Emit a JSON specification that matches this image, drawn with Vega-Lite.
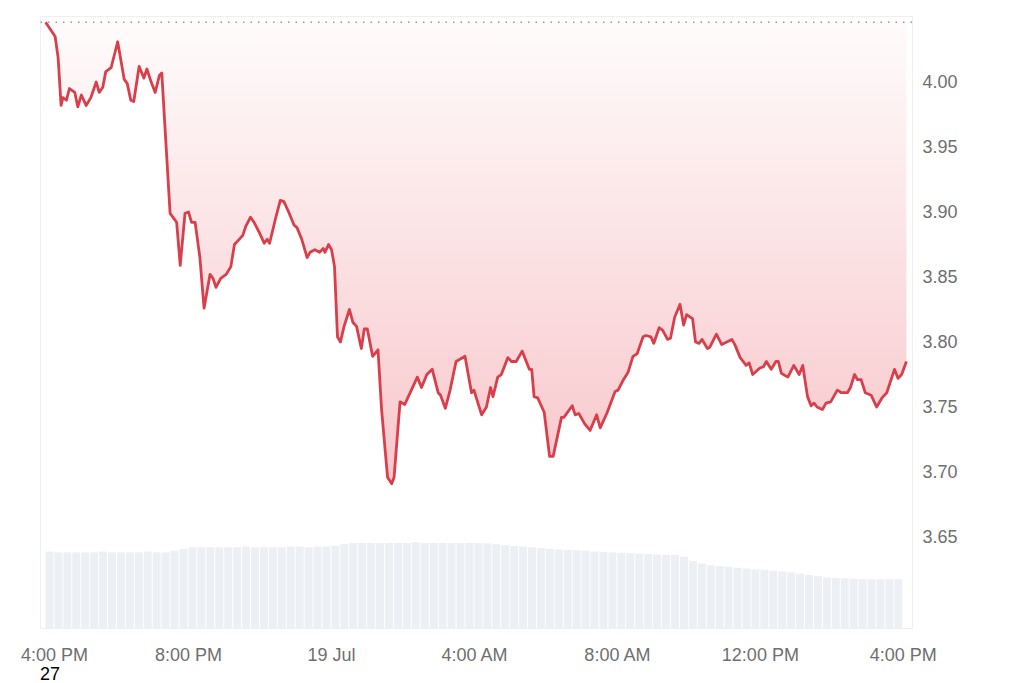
{
  "$schema": "https://vega.github.io/schema/vega-lite/v6.json",
  "width": 872,
  "height": 612,
  "autosize": {"type": "none"},
  "padding": {"left": 40, "top": 16, "right": 112, "bottom": 55},
  "background": "#ffffff",
  "config": {
    "view": {"stroke": "#efefef"},
    "axisX": {"title": null, "domain": false, "ticks": false, "grid": false, "labelPadding": 18, "labelFontSize": 18, "labelColor": "#6f6f6f", "labelFont": "Liberation Sans", "labelFlush": false, "labelOverlap": false},
    "axisY": {"title": null, "domain": false, "ticks": false, "grid": true, "gridColor": "#ececec", "labelPadding": 10, "labelFontSize": 18, "labelColor": "#6f6f6f", "labelFont": "Liberation Sans"}
  },
  "title": {"text": "27", "orient": "bottom", "anchor": "start", "frame": "group", "fontSize": 18, "color": "#000000", "font": "Liberation Sans", "fontWeight": "normal", "offset": 2},
  "datasets": {
    "price": [
      {"t": "2024-07-18T16:01:00Z", "p": 4.046},
      {"t": "2024-07-18T16:17:00Z", "p": 4.035},
      {"t": "2024-07-18T16:22:00Z", "p": 4.019},
      {"t": "2024-07-18T16:27:00Z", "p": 3.982},
      {"t": "2024-07-18T16:30:00Z", "p": 3.988},
      {"t": "2024-07-18T16:36:00Z", "p": 3.986},
      {"t": "2024-07-18T16:41:00Z", "p": 3.995},
      {"t": "2024-07-18T16:50:00Z", "p": 3.992},
      {"t": "2024-07-18T16:55:00Z", "p": 3.981},
      {"t": "2024-07-18T17:01:00Z", "p": 3.990},
      {"t": "2024-07-18T17:09:00Z", "p": 3.982},
      {"t": "2024-07-18T17:17:00Z", "p": 3.988},
      {"t": "2024-07-18T17:26:00Z", "p": 4.000},
      {"t": "2024-07-18T17:31:00Z", "p": 3.992},
      {"t": "2024-07-18T17:37:00Z", "p": 3.996},
      {"t": "2024-07-18T17:42:00Z", "p": 4.008},
      {"t": "2024-07-18T17:51:00Z", "p": 4.011},
      {"t": "2024-07-18T18:02:00Z", "p": 4.031},
      {"t": "2024-07-18T18:13:00Z", "p": 4.002},
      {"t": "2024-07-18T18:18:00Z", "p": 3.999},
      {"t": "2024-07-18T18:24:00Z", "p": 3.986},
      {"t": "2024-07-18T18:29:00Z", "p": 3.985},
      {"t": "2024-07-18T18:38:00Z", "p": 4.012},
      {"t": "2024-07-18T18:46:00Z", "p": 4.003},
      {"t": "2024-07-18T18:51:00Z", "p": 4.010},
      {"t": "2024-07-18T18:59:00Z", "p": 3.999},
      {"t": "2024-07-18T19:05:00Z", "p": 3.992},
      {"t": "2024-07-18T19:12:00Z", "p": 4.005},
      {"t": "2024-07-18T19:16:00Z", "p": 4.007},
      {"t": "2024-07-18T19:30:00Z", "p": 3.899},
      {"t": "2024-07-18T19:38:00Z", "p": 3.894},
      {"t": "2024-07-18T19:41:00Z", "p": 3.892},
      {"t": "2024-07-18T19:47:00Z", "p": 3.859},
      {"t": "2024-07-18T19:55:00Z", "p": 3.899},
      {"t": "2024-07-18T20:01:00Z", "p": 3.900},
      {"t": "2024-07-18T20:06:00Z", "p": 3.892},
      {"t": "2024-07-18T20:12:00Z", "p": 3.892},
      {"t": "2024-07-18T20:20:00Z", "p": 3.865},
      {"t": "2024-07-18T20:27:00Z", "p": 3.826},
      {"t": "2024-07-18T20:37:00Z", "p": 3.852},
      {"t": "2024-07-18T20:42:00Z", "p": 3.849},
      {"t": "2024-07-18T20:47:00Z", "p": 3.842},
      {"t": "2024-07-18T20:55:00Z", "p": 3.849},
      {"t": "2024-07-18T21:04:00Z", "p": 3.852},
      {"t": "2024-07-18T21:12:00Z", "p": 3.858},
      {"t": "2024-07-18T21:18:00Z", "p": 3.875},
      {"t": "2024-07-18T21:26:00Z", "p": 3.879},
      {"t": "2024-07-18T21:32:00Z", "p": 3.882},
      {"t": "2024-07-18T21:37:00Z", "p": 3.889},
      {"t": "2024-07-18T21:45:00Z", "p": 3.896},
      {"t": "2024-07-18T21:51:00Z", "p": 3.892},
      {"t": "2024-07-18T22:00:00Z", "p": 3.884},
      {"t": "2024-07-18T22:08:00Z", "p": 3.876},
      {"t": "2024-07-18T22:13:00Z", "p": 3.879},
      {"t": "2024-07-18T22:17:00Z", "p": 3.876},
      {"t": "2024-07-18T22:27:00Z", "p": 3.895},
      {"t": "2024-07-18T22:35:00Z", "p": 3.909},
      {"t": "2024-07-18T22:41:00Z", "p": 3.908},
      {"t": "2024-07-18T22:49:00Z", "p": 3.900},
      {"t": "2024-07-18T22:58:00Z", "p": 3.890},
      {"t": "2024-07-18T23:03:00Z", "p": 3.888},
      {"t": "2024-07-18T23:11:00Z", "p": 3.879},
      {"t": "2024-07-18T23:20:00Z", "p": 3.865},
      {"t": "2024-07-18T23:25:00Z", "p": 3.869},
      {"t": "2024-07-18T23:33:00Z", "p": 3.871},
      {"t": "2024-07-18T23:41:00Z", "p": 3.869},
      {"t": "2024-07-18T23:47:00Z", "p": 3.872},
      {"t": "2024-07-18T23:50:00Z", "p": 3.869},
      {"t": "2024-07-18T23:56:00Z", "p": 3.875},
      {"t": "2024-07-19T00:01:00Z", "p": 3.871},
      {"t": "2024-07-19T00:06:00Z", "p": 3.858},
      {"t": "2024-07-19T00:11:00Z", "p": 3.804},
      {"t": "2024-07-19T00:16:00Z", "p": 3.800},
      {"t": "2024-07-19T00:22:00Z", "p": 3.812},
      {"t": "2024-07-19T00:31:00Z", "p": 3.825},
      {"t": "2024-07-19T00:37:00Z", "p": 3.815},
      {"t": "2024-07-19T00:43:00Z", "p": 3.812},
      {"t": "2024-07-19T00:51:00Z", "p": 3.795},
      {"t": "2024-07-19T00:56:00Z", "p": 3.810},
      {"t": "2024-07-19T01:01:00Z", "p": 3.810},
      {"t": "2024-07-19T01:10:00Z", "p": 3.789},
      {"t": "2024-07-19T01:19:00Z", "p": 3.794},
      {"t": "2024-07-19T01:25:00Z", "p": 3.748},
      {"t": "2024-07-19T01:35:00Z", "p": 3.696},
      {"t": "2024-07-19T01:42:00Z", "p": 3.691},
      {"t": "2024-07-19T01:46:00Z", "p": 3.696},
      {"t": "2024-07-19T01:56:00Z", "p": 3.754},
      {"t": "2024-07-19T02:04:00Z", "p": 3.752},
      {"t": "2024-07-19T02:14:00Z", "p": 3.762},
      {"t": "2024-07-19T02:25:00Z", "p": 3.773},
      {"t": "2024-07-19T02:32:00Z", "p": 3.765},
      {"t": "2024-07-19T02:41:00Z", "p": 3.775},
      {"t": "2024-07-19T02:50:00Z", "p": 3.779},
      {"t": "2024-07-19T03:00:00Z", "p": 3.761},
      {"t": "2024-07-19T03:04:00Z", "p": 3.759},
      {"t": "2024-07-19T03:12:00Z", "p": 3.749},
      {"t": "2024-07-19T03:20:00Z", "p": 3.763},
      {"t": "2024-07-19T03:30:00Z", "p": 3.785},
      {"t": "2024-07-19T03:45:00Z", "p": 3.789},
      {"t": "2024-07-19T03:56:00Z", "p": 3.761},
      {"t": "2024-07-19T04:00:00Z", "p": 3.763},
      {"t": "2024-07-19T04:13:00Z", "p": 3.744},
      {"t": "2024-07-19T04:21:00Z", "p": 3.750},
      {"t": "2024-07-19T04:28:00Z", "p": 3.765},
      {"t": "2024-07-19T04:32:00Z", "p": 3.758},
      {"t": "2024-07-19T04:40:00Z", "p": 3.773},
      {"t": "2024-07-19T04:46:00Z", "p": 3.775},
      {"t": "2024-07-19T04:57:00Z", "p": 3.788},
      {"t": "2024-07-19T05:03:00Z", "p": 3.785},
      {"t": "2024-07-19T05:11:00Z", "p": 3.785},
      {"t": "2024-07-19T05:21:00Z", "p": 3.793},
      {"t": "2024-07-19T05:33:00Z", "p": 3.779},
      {"t": "2024-07-19T05:37:00Z", "p": 3.779},
      {"t": "2024-07-19T05:41:00Z", "p": 3.758},
      {"t": "2024-07-19T05:47:00Z", "p": 3.757},
      {"t": "2024-07-19T05:58:00Z", "p": 3.746},
      {"t": "2024-07-19T06:07:00Z", "p": 3.712},
      {"t": "2024-07-19T06:13:00Z", "p": 3.712},
      {"t": "2024-07-19T06:27:00Z", "p": 3.742},
      {"t": "2024-07-19T06:31:00Z", "p": 3.742},
      {"t": "2024-07-19T06:45:00Z", "p": 3.751},
      {"t": "2024-07-19T06:50:00Z", "p": 3.744},
      {"t": "2024-07-19T06:56:00Z", "p": 3.745},
      {"t": "2024-07-19T07:06:00Z", "p": 3.737},
      {"t": "2024-07-19T07:15:00Z", "p": 3.732},
      {"t": "2024-07-19T07:26:00Z", "p": 3.744},
      {"t": "2024-07-19T07:32:00Z", "p": 3.734},
      {"t": "2024-07-19T07:43:00Z", "p": 3.745},
      {"t": "2024-07-19T07:57:00Z", "p": 3.762},
      {"t": "2024-07-19T08:02:00Z", "p": 3.763},
      {"t": "2024-07-19T08:11:00Z", "p": 3.771},
      {"t": "2024-07-19T08:19:00Z", "p": 3.777},
      {"t": "2024-07-19T08:27:00Z", "p": 3.789},
      {"t": "2024-07-19T08:34:00Z", "p": 3.791},
      {"t": "2024-07-19T08:44:00Z", "p": 3.804},
      {"t": "2024-07-19T08:49:00Z", "p": 3.805},
      {"t": "2024-07-19T08:57:00Z", "p": 3.804},
      {"t": "2024-07-19T09:02:00Z", "p": 3.799},
      {"t": "2024-07-19T09:11:00Z", "p": 3.811},
      {"t": "2024-07-19T09:17:00Z", "p": 3.809},
      {"t": "2024-07-19T09:25:00Z", "p": 3.802},
      {"t": "2024-07-19T09:30:00Z", "p": 3.803},
      {"t": "2024-07-19T09:37:00Z", "p": 3.819},
      {"t": "2024-07-19T09:46:00Z", "p": 3.829},
      {"t": "2024-07-19T09:52:00Z", "p": 3.813},
      {"t": "2024-07-19T09:57:00Z", "p": 3.821},
      {"t": "2024-07-19T10:07:00Z", "p": 3.818},
      {"t": "2024-07-19T10:12:00Z", "p": 3.800},
      {"t": "2024-07-19T10:18:00Z", "p": 3.799},
      {"t": "2024-07-19T10:23:00Z", "p": 3.802},
      {"t": "2024-07-19T10:32:00Z", "p": 3.795},
      {"t": "2024-07-19T10:36:00Z", "p": 3.796},
      {"t": "2024-07-19T10:47:00Z", "p": 3.806},
      {"t": "2024-07-19T10:56:00Z", "p": 3.798},
      {"t": "2024-07-19T11:13:00Z", "p": 3.802},
      {"t": "2024-07-19T11:18:00Z", "p": 3.798},
      {"t": "2024-07-19T11:27:00Z", "p": 3.788},
      {"t": "2024-07-19T11:37:00Z", "p": 3.782},
      {"t": "2024-07-19T11:42:00Z", "p": 3.784},
      {"t": "2024-07-19T11:48:00Z", "p": 3.775},
      {"t": "2024-07-19T12:00:00Z", "p": 3.780},
      {"t": "2024-07-19T12:06:00Z", "p": 3.781},
      {"t": "2024-07-19T12:11:00Z", "p": 3.785},
      {"t": "2024-07-19T12:19:00Z", "p": 3.779},
      {"t": "2024-07-19T12:27:00Z", "p": 3.785},
      {"t": "2024-07-19T12:31:00Z", "p": 3.785},
      {"t": "2024-07-19T12:36:00Z", "p": 3.776},
      {"t": "2024-07-19T12:47:00Z", "p": 3.773},
      {"t": "2024-07-19T12:57:00Z", "p": 3.782},
      {"t": "2024-07-19T13:06:00Z", "p": 3.775},
      {"t": "2024-07-19T13:12:00Z", "p": 3.782},
      {"t": "2024-07-19T13:20:00Z", "p": 3.758},
      {"t": "2024-07-19T13:26:00Z", "p": 3.751},
      {"t": "2024-07-19T13:31:00Z", "p": 3.753},
      {"t": "2024-07-19T13:36:00Z", "p": 3.750},
      {"t": "2024-07-19T13:45:00Z", "p": 3.748},
      {"t": "2024-07-19T13:51:00Z", "p": 3.753},
      {"t": "2024-07-19T13:59:00Z", "p": 3.754},
      {"t": "2024-07-19T14:10:00Z", "p": 3.763},
      {"t": "2024-07-19T14:17:00Z", "p": 3.761},
      {"t": "2024-07-19T14:27:00Z", "p": 3.761},
      {"t": "2024-07-19T14:32:00Z", "p": 3.765},
      {"t": "2024-07-19T14:39:00Z", "p": 3.775},
      {"t": "2024-07-19T14:44:00Z", "p": 3.771},
      {"t": "2024-07-19T14:50:00Z", "p": 3.771},
      {"t": "2024-07-19T14:57:00Z", "p": 3.761},
      {"t": "2024-07-19T15:07:00Z", "p": 3.759},
      {"t": "2024-07-19T15:16:00Z", "p": 3.750},
      {"t": "2024-07-19T15:25:00Z", "p": 3.757},
      {"t": "2024-07-19T15:33:00Z", "p": 3.761},
      {"t": "2024-07-19T15:46:00Z", "p": 3.779},
      {"t": "2024-07-19T15:52:00Z", "p": 3.772},
      {"t": "2024-07-19T15:58:00Z", "p": 3.775},
      {"t": "2024-07-19T16:06:00Z", "p": 3.785}
    ],
    "vol": [
      {"t": "2024-07-18T16:07:30Z", "v": 90}, {"t": "2024-07-18T16:22:30Z", "v": 89}, {"t": "2024-07-18T16:37:30Z", "v": 89}, {"t": "2024-07-18T16:52:30Z", "v": 89},
      {"t": "2024-07-18T17:07:30Z", "v": 89}, {"t": "2024-07-18T17:22:30Z", "v": 89}, {"t": "2024-07-18T17:37:30Z", "v": 90}, {"t": "2024-07-18T17:52:30Z", "v": 89},
      {"t": "2024-07-18T18:07:30Z", "v": 89}, {"t": "2024-07-18T18:22:30Z", "v": 89}, {"t": "2024-07-18T18:37:30Z", "v": 89}, {"t": "2024-07-18T18:52:30Z", "v": 90},
      {"t": "2024-07-18T19:07:30Z", "v": 89}, {"t": "2024-07-18T19:22:30Z", "v": 89}, {"t": "2024-07-18T19:37:30Z", "v": 91}, {"t": "2024-07-18T19:52:30Z", "v": 93},
      {"t": "2024-07-18T20:07:30Z", "v": 95}, {"t": "2024-07-18T20:22:30Z", "v": 95}, {"t": "2024-07-18T20:37:30Z", "v": 95}, {"t": "2024-07-18T20:52:30Z", "v": 95},
      {"t": "2024-07-18T21:07:30Z", "v": 95}, {"t": "2024-07-18T21:22:30Z", "v": 95}, {"t": "2024-07-18T21:37:30Z", "v": 96}, {"t": "2024-07-18T21:52:30Z", "v": 95},
      {"t": "2024-07-18T22:07:30Z", "v": 95}, {"t": "2024-07-18T22:22:30Z", "v": 95}, {"t": "2024-07-18T22:37:30Z", "v": 95}, {"t": "2024-07-18T22:52:30Z", "v": 96},
      {"t": "2024-07-18T23:07:30Z", "v": 96}, {"t": "2024-07-18T23:22:30Z", "v": 95}, {"t": "2024-07-18T23:37:30Z", "v": 96}, {"t": "2024-07-18T23:52:30Z", "v": 96},
      {"t": "2024-07-19T00:07:30Z", "v": 97}, {"t": "2024-07-19T00:22:30Z", "v": 99}, {"t": "2024-07-19T00:37:30Z", "v": 100}, {"t": "2024-07-19T00:52:30Z", "v": 100},
      {"t": "2024-07-19T01:07:30Z", "v": 100}, {"t": "2024-07-19T01:22:30Z", "v": 100}, {"t": "2024-07-19T01:37:30Z", "v": 100}, {"t": "2024-07-19T01:52:30Z", "v": 100},
      {"t": "2024-07-19T02:07:30Z", "v": 100}, {"t": "2024-07-19T02:22:30Z", "v": 101}, {"t": "2024-07-19T02:37:30Z", "v": 100}, {"t": "2024-07-19T02:52:30Z", "v": 100},
      {"t": "2024-07-19T03:07:30Z", "v": 100}, {"t": "2024-07-19T03:22:30Z", "v": 100}, {"t": "2024-07-19T03:37:30Z", "v": 100}, {"t": "2024-07-19T03:52:30Z", "v": 100},
      {"t": "2024-07-19T04:07:30Z", "v": 100}, {"t": "2024-07-19T04:22:30Z", "v": 99.5}, {"t": "2024-07-19T04:37:30Z", "v": 98.5}, {"t": "2024-07-19T04:52:30Z", "v": 97.5},
      {"t": "2024-07-19T05:07:30Z", "v": 96.5}, {"t": "2024-07-19T05:22:30Z", "v": 96}, {"t": "2024-07-19T05:37:30Z", "v": 95}, {"t": "2024-07-19T05:52:30Z", "v": 94},
      {"t": "2024-07-19T06:07:30Z", "v": 93}, {"t": "2024-07-19T06:22:30Z", "v": 92.5}, {"t": "2024-07-19T06:37:30Z", "v": 92}, {"t": "2024-07-19T06:52:30Z", "v": 91.5},
      {"t": "2024-07-19T07:07:30Z", "v": 91}, {"t": "2024-07-19T07:22:30Z", "v": 90}, {"t": "2024-07-19T07:37:30Z", "v": 89.5}, {"t": "2024-07-19T07:52:30Z", "v": 89},
      {"t": "2024-07-19T08:07:30Z", "v": 88.5}, {"t": "2024-07-19T08:22:30Z", "v": 88}, {"t": "2024-07-19T08:37:30Z", "v": 87.5}, {"t": "2024-07-19T08:52:30Z", "v": 87},
      {"t": "2024-07-19T09:07:30Z", "v": 86.5}, {"t": "2024-07-19T09:22:30Z", "v": 86}, {"t": "2024-07-19T09:37:30Z", "v": 86}, {"t": "2024-07-19T09:52:30Z", "v": 84},
      {"t": "2024-07-19T10:07:30Z", "v": 79}, {"t": "2024-07-19T10:22:30Z", "v": 76}, {"t": "2024-07-19T10:37:30Z", "v": 74}, {"t": "2024-07-19T10:52:30Z", "v": 73},
      {"t": "2024-07-19T11:07:30Z", "v": 72}, {"t": "2024-07-19T11:22:30Z", "v": 71}, {"t": "2024-07-19T11:37:30Z", "v": 70}, {"t": "2024-07-19T11:52:30Z", "v": 69},
      {"t": "2024-07-19T12:07:30Z", "v": 68.5}, {"t": "2024-07-19T12:22:30Z", "v": 67.5}, {"t": "2024-07-19T12:37:30Z", "v": 66.5}, {"t": "2024-07-19T12:52:30Z", "v": 65.5},
      {"t": "2024-07-19T13:07:30Z", "v": 64}, {"t": "2024-07-19T13:22:30Z", "v": 62.5}, {"t": "2024-07-19T13:37:30Z", "v": 61}, {"t": "2024-07-19T13:52:30Z", "v": 59.5},
      {"t": "2024-07-19T14:07:30Z", "v": 59}, {"t": "2024-07-19T14:22:30Z", "v": 58.5}, {"t": "2024-07-19T14:37:30Z", "v": 58}, {"t": "2024-07-19T14:52:30Z", "v": 57.5},
      {"t": "2024-07-19T15:07:30Z", "v": 57.5}, {"t": "2024-07-19T15:22:30Z", "v": 57.5}, {"t": "2024-07-19T15:37:30Z", "v": 57.5}, {"t": "2024-07-19T15:52:30Z", "v": 57.5}
    ],
    "ref": [{"open": 4.046}]
  },
  "layer": [
    {
      "data": {"name": "vol"},
      "mark": {"type": "bar", "size": 8, "color": "#ecf0f4"},
      "encoding": {
        "x": {"field": "t", "type": "temporal", "scale": {"type": "utc", "domain": [{"year": 2024, "month": 7, "date": 18, "hours": 16, "utc": true}, {"year": 2024, "month": 7, "date": 19, "hours": 16, "minutes": 7, "utc": true}]},
          "axis": {"values": [{"year": 2024, "month": 7, "date": 18, "hours": 16, "utc": true}, {"year": 2024, "month": 7, "date": 18, "hours": 20, "utc": true}, {"year": 2024, "month": 7, "date": 19, "hours": 0, "utc": true}, {"year": 2024, "month": 7, "date": 19, "hours": 4, "utc": true}, {"year": 2024, "month": 7, "date": 19, "hours": 8, "utc": true}, {"year": 2024, "month": 7, "date": 19, "hours": 12, "utc": true}, {"year": 2024, "month": 7, "date": 19, "hours": 16, "utc": true}],
            "labelExpr": "utchours(datum.value) == 0 ? utcFormat(datum.value, '%-d %b') : utcFormat(datum.value, '%-I:%M %p')",
            "labelOffset": {"condition": {"test": "utchours(datum.value) == 16 && utcdate(datum.value) == 18", "value": 9}, "value": 0}}},
        "y": {"field": "v", "type": "quantitative", "scale": {"domain": [0, 720], "nice": false}, "axis": null}
      }
    },
    {
      "layer": [
        {
          "data": {"name": "price"},
          "mark": {"type": "area", "line": false, "color": {"gradient": "linear", "x1": 0, "y1": 0, "x2": 0, "y2": 1, "stops": [{"offset": 0, "color": "rgba(232,70,82,0.02)"}, {"offset": 1, "color": "rgba(232,70,82,0.30)"}]}},
          "encoding": {
            "x": {"field": "t", "type": "temporal"},
            "y": {"field": "p", "type": "quantitative", "scale": {"domain": [3.58, 4.0508], "nice": false, "zero": false},
              "axis": {"orient": "right", "values": [3.65, 3.7, 3.75, 3.8, 3.85, 3.9, 3.95, 4.0], "format": ".2f"}},
            "y2": {"datum": 4.046}
          }
        },
        {
          "data": {"name": "price"},
          "mark": {"type": "line", "color": "#d93f4b", "strokeWidth": 2.8, "strokeJoin": "round"},
          "encoding": {
            "x": {"field": "t", "type": "temporal"},
            "y": {"field": "p", "type": "quantitative", "scale": {"domain": [3.58, 4.0508], "nice": false, "zero": false},
              "axis": {"orient": "right", "values": [3.65, 3.7, 3.75, 3.8, 3.85, 3.9, 3.95, 4.0], "format": ".2f"}}
          }
        },
        {
          "data": {"name": "ref"},
          "mark": {"type": "rule", "color": "#9a9a9a", "strokeWidth": 1.5, "strokeDash": [1.5, 6]},
          "encoding": {
            "y": {"field": "open", "type": "quantitative", "scale": {"domain": [3.58, 4.0508], "nice": false, "zero": false},
              "axis": {"orient": "right", "values": [3.65, 3.7, 3.75, 3.8, 3.85, 3.9, 3.95, 4.0], "format": ".2f"}}
          }
        }
      ]
    }
  ],
  "resolve": {"scale": {"y": "independent"}}
}
